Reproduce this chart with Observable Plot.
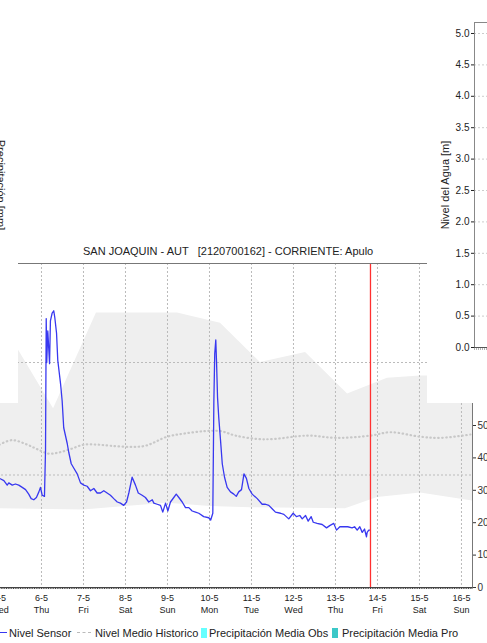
<!DOCTYPE html>
<html><head><meta charset="utf-8">
<script src="https://cdn.jsdelivr.net/npm/d3@7"></script>
<script src="https://cdn.jsdelivr.net/npm/@observablehq/plot@0.6"></script>
<style>
body{margin:0;background:#fff;width:487px;height:643px;overflow:hidden;position:relative;font-family:"Liberation Sans",Arial,sans-serif;color:#222;}
svg{max-width:none !important;}
.abs{position:absolute;}
#lower{position:absolute;left:0;top:0;width:487px;height:643px;clip-path:polygon(18px 238px,427px 238px,427px 403px,487px 403px,487px 643px,0 643px,0 403px,18px 403px);}
.lg{position:absolute;top:626px;font-size:11px;line-height:14px;white-space:pre;color:#222;}
</style></head><body>
<div id="bg" class="abs" style="left:0;top:0;width:495px"></div>
<div class="abs" style="left:445px;top:185px;font-size:11px;line-height:11px;white-space:pre;transform:translate(-50%,-50%) rotate(-90deg);">Nivel del Agua [m]</div>
<div class="abs" style="left:0px;top:185px;font-size:11px;line-height:11px;white-space:pre;transform:translate(-50%,-50%) rotate(90deg);">Precipitación [mm]</div>
<div id="lower">
  <div id="title" class="abs" style="left:83px;top:245px;font-size:11px;line-height:12px;white-space:pre;">SAN JOAQUIN - AUT   [2120700162] - CORRIENTE: Apulo</div>
  <div id="lowerPlot" class="abs" style="left:-43px;top:261px;width:545px"></div>
  <div class="lg" style="left:0;top:632px;width:7px;height:0;border-top:1.3px solid #3838f0"></div>
  <div class="lg" style="left:9px">Nivel Sensor</div>
  <div class="lg" style="left:77px;top:632px;width:14px;height:0;border-top:1.3px dashed #bbb"></div>
  <div class="lg" style="left:95px">Nivel Medio Historico</div>
  <div class="lg" style="left:201px;top:628px;width:6px;height:10px;background:#66ffff"></div>
  <div class="lg" style="left:209px">Precipitación Media Obs</div>
  <div class="lg" style="left:332px;top:628px;width:6px;height:10px;background:#3cc8c8"></div>
  <div class="lg" style="left:342px">Precipitación Media Pro</div>
</div>
<script>
// ---- lower chart data (hours since 5-5 00:00, water level) ----
const sensorHours = [
 0,2.5,4.4,5.3,7.3,9.1,11.0,13.0,14.9,16.7,
 18.1,19.6,21.1,22.5,23.4,24.4,25.7,26.3,26.7,27.0,
 27.6,28.6,29.1,30.1,31.0,31.6,32.6,33.3,34.9,35.8,
 36.7,38.7,39.6,41.0,42.5,44.4,46.3,48.2,50.1,52.0,
 53.9,55.8,57.7,59.6,61.5,63.4,65.3,67.3,69.1,71.0,
 72.6,73.9,75.8,77.7,79.3,81.5,83.4,85.3,87.3,88.2,
 90.1,92.0,93.3,94.9,96.2,97.7,99.6,101.0,102.5,104.4,
 106.3,108.2,110.1,112.0,113.9,116.7,119.6,120.7,121.9,122.5,
 123.0,123.6,124.0,124.6,125.3,126.3,127.3,128.6,130.1,132.0,
 133.9,135.3,136.7,138.3,139.7,141.1,142.5,144.4,147.3,150.1,
 152.0,153.9,155.8,157.7,160.6,162.5,165.3,167.8,169.7,171.6,
 173.0,174.9,176.4,178.1,179.3,181.5,184.4,186.9,188.7,191.0,
 192.6,194.5,196.7,199.0,201.5,202.9,204.4,205.9,207.3,208.6,
 209.7,210.1,211.0,211.7];
const sensorLevel = [
 0.97,0.95,0.91,0.93,0.91,0.92,0.91,0.89,0.87,0.83,
 0.79,0.78,0.80,0.85,0.89,0.82,0.81,1.22,2.39,2.00,
 2.28,1.99,2.37,2.44,2.46,2.40,2.26,2.02,1.81,1.66,
 1.42,1.28,1.20,1.10,1.06,1.01,0.93,0.91,0.90,0.86,
 0.88,0.84,0.84,0.86,0.84,0.82,0.79,0.76,0.75,0.73,
 0.76,0.84,0.98,0.91,0.84,0.82,0.80,0.76,0.78,0.75,
 0.74,0.73,0.67,0.75,0.68,0.76,0.80,0.83,0.80,0.76,
 0.71,0.71,0.68,0.67,0.66,0.63,0.62,0.60,0.66,1.66,
 2.08,2.20,2.02,1.69,1.51,1.31,1.10,0.98,0.89,0.85,
 0.83,0.81,0.85,0.87,1.01,0.97,0.88,0.83,0.79,0.74,
 0.74,0.73,0.70,0.67,0.66,0.65,0.61,0.66,0.63,0.64,
 0.61,0.64,0.59,0.63,0.58,0.57,0.56,0.53,0.55,0.57,
 0.51,0.54,0.54,0.54,0.53,0.54,0.51,0.54,0.49,0.52,
 0.45,0.49,0.51,0.51];
const meanHours = [0,7.3,15.8,21.5,28.2,33.9,40.6,48.2,55.8,63.4,73.9,83.4,95.8,106.3,117.7,126.3,134.9,147.4,156.6,175.8,193.0,212.0,223.4,240.6,252.0,269.1];
const meanLevel = [1.27,1.31,1.27,1.23,1.19,1.20,1.23,1.27,1.27,1.26,1.25,1.26,1.34,1.37,1.39,1.39,1.35,1.32,1.32,1.35,1.33,1.35,1.38,1.34,1.33,1.36];
const bandTopHours = [-24,10.9,30.9,55.4,101.7,126.3,149.1,174.9,198.9,221.7,240.6,270.3];
const bandTopLevel = [2.40,2.11,1.59,2.44,2.44,2.35,2.00,2.09,1.72,1.86,1.88,1.88];
const bandLowHours = [-24,0,48.0,72.0,96.0,120.6,143.4,197.7,216.0,240.6,270.3];
const bandLowLevel = [0.70,0.70,0.69,0.72,0.75,0.72,0.71,0.70,0.80,0.84,0.77];
const dayHours = [0,24,48,72,96,120,144,168,192,216,240,264];
const dayLabels = ["5-5","6-5","7-5","8-5","9-5","10-5","11-5","12-5","13-5","14-5","15-5","16-5"];
const weekdays = ["Wed","Thu","Fri","Sat","Sun","Mon","Tue","Wed","Thu","Fri","Sat","Sun"];
const nowHour = [212.0];
const levelGrid = [1, 2];
const levelMax = 2.88;
const precipTicks = [0,10,20,30,40,50,60,70,80,90,100];
const precipMax = 100;
// ---- background chart ----
const bgTicks = [0,0.5,1,1.5,2,2.5,3,3.5,4,4.5,5];
const bgMax = 5.175;

const tbl = (xs, ys) => xs.map((h, i) => ({h, v: ys[i]}));
const sensor = tbl(sensorHours, sensorLevel);
const mean = tbl(meanHours, meanLevel);
const bandTop = tbl(bandTopHours, bandTopLevel);
const bandLow = tbl(bandLowHours, bandLowLevel);
const hourTicks = d3.range(-24, 271, 1);

const lower = Plot.plot({
  width: 545, height: 358,
  marginLeft: 0, marginRight: 30, marginTop: 2, marginBottom: 32,
  style: {fontFamily: "Liberation Sans, Arial, sans-serif", background: "transparent", overflow: "visible", maxWidth: "none"},
  x: {domain: [-24, 270.3]},
  y: {domain: [0, levelMax]},
  marks: [
    Plot.areaY(bandTop, {x: "h", y: "v", fill: "#efefef"}),
    Plot.areaY(bandLow, {x: "h", y: "v", fill: "#ffffff"}),
    Plot.ruleY(levelGrid, {stroke: "#bbb", strokeDasharray: "2,2"}),
    Plot.ruleX(dayHours, {stroke: "#bbb", strokeDasharray: "2,2"}),
    Plot.line(mean, {x: "h", y: "v", stroke: "#c8c8c8", strokeWidth: 2.2, strokeDasharray: "0.5,3.5", strokeLinecap: "round", curve: "catmull-rom"}),
    Plot.line(sensor, {x: "h", y: "v", stroke: "#3838f0", strokeWidth: 1.3}),
    Plot.ruleX(nowHour, {stroke: "#ff3030", strokeWidth: 1.3}),
    Plot.frame({stroke: "#777"}),
    Plot.ruleY([0], {stroke: "#444"}),
    Plot.axisX(hourTicks, {tickSize: 2, tickFormat: () => "", stroke: "#444", label: null}),
    Plot.text(dayHours, {x: d => d, text: (d, i) => dayLabels[i] + "\n" + weekdays[i], frameAnchor: "bottom", lineAnchor: "top", dy: 5, fontSize: 9, lineHeight: 1.33, fill: "#222"}),
    Plot.axisY(precipTicks.map(v => v * levelMax / precipMax), {anchor: "right", tickSize: 3, tickPadding: 2, tickFormat: d => Math.round(d * precipMax / levelMax), fontSize: 10, label: null, color: "#333"})
  ]
});
document.getElementById("lowerPlot").appendChild(lower);

const bg = Plot.plot({
  width: 495, height: 353,
  marginLeft: 474, marginRight: 0, marginTop: 22, marginBottom: 6,
  style: {fontFamily: "Liberation Sans, Arial, sans-serif", background: "transparent", overflow: "visible", maxWidth: "none"},
  y: {domain: [0, bgMax]},
  marks: [
    Plot.ruleY(bgTicks, {stroke: "#ccc", strokeDasharray: "2,2"}),
    Plot.frame({stroke: "#888"}),
    Plot.ruleY([0], {stroke: "#555"}),
    Plot.ruleY([0], {dy: 1.5, stroke: "#666", strokeDasharray: "1,1"}),
    Plot.axisY(bgTicks, {anchor: "left", tickSize: 3, tickPadding: 2, tickFormat: d3.format(".1f"), fontSize: 10, label: null, color: "#222"})
  ]
});
document.getElementById("bg").appendChild(bg);
</script>
</body></html>
